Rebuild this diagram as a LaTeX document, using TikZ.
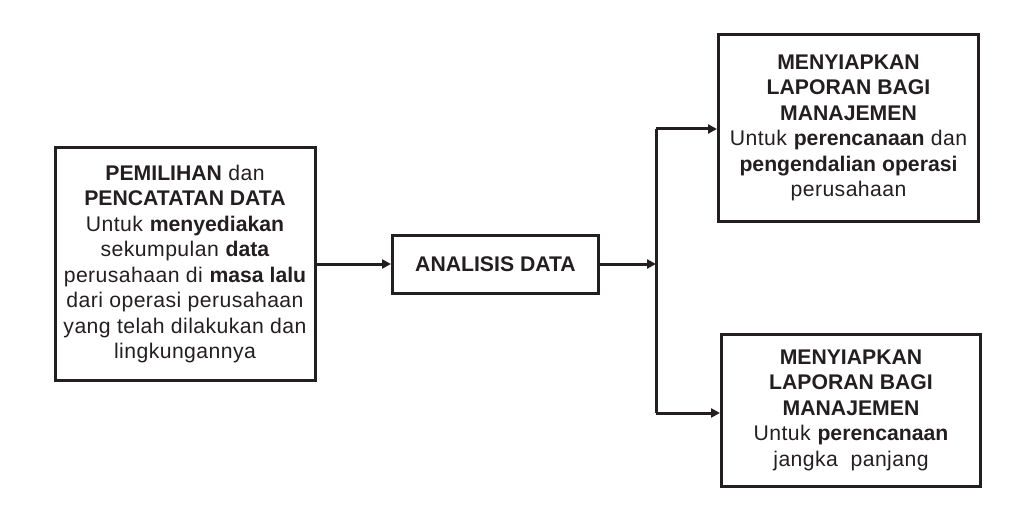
\documentclass[tikz,border=0pt]{standalone}
\usepackage{fontspec}
\setmainfont{Liberation Sans}[LetterSpace=2,BoldFeatures={LetterSpace=0}]
\usetikzlibrary{arrows.meta}
\definecolor{ink}{HTML}{231F20}
\begin{document}
\begin{tikzpicture}[x=1pt,y=-1pt,
  box/.style={draw=ink,line width=3pt,inner sep=0pt,align=center,text=ink,
    font=\fontsize{21.2}{25.5}\selectfont},
  conn/.style={draw=ink,line width=3pt},
  arr/.style={conn,-{Triangle[length=9pt,width=9pt]}}]
\useasboundingbox (0,0) rectangle (1019,505);
\node[box,minimum width=260pt,minimum height=232pt] (L) at (185,264)
  {\textbf{PEMILIHAN} dan\\\textbf{PENCATATAN DATA}\\Untuk \textbf{menyediakan}\\sekumpulan \textbf{data}\\perusahaan di \textbf{masa lalu}\\dari operasi perusahaan\\yang telah dilakukan dan\\lingkungannya};
\node[box,minimum width=206pt,minimum height=58pt] (A) at (495.5,264.5)
  {\textbf{ANALISIS DATA}};
\node[box,minimum width=260pt,minimum height=187pt] (T) at (848.5,128)
  {\textbf{MENYIAPKAN}\\\textbf{LAPORAN BAGI}\\\textbf{MANAJEMEN}\\Untuk \textbf{perencanaan} dan\\\textbf{pengendalian operasi}\\perusahaan};
\node[box,minimum width=259pt,minimum height=152pt] (B) at (851,410)
  {\textbf{MENYIAPKAN}\\\textbf{LAPORAN BAGI}\\\textbf{MANAJEMEN}\\Untuk \textbf{perencanaan}\\jangka\ \ panjang};
\coordinate (J) at (656,264);
\coordinate (J1) at (656,129);
\coordinate (J2) at (656,413);
\draw[arr] (L.east |- 0,264) -- (A.west |- 0,264);
\draw[arr] (A.east |- J) -- (J);
\draw[conn] (J1) -- (J2);
\draw[arr] (J1) -- (J1 -| T.west);
\draw[arr] (J2) -- (J2 -| B.west);
\end{tikzpicture}
\end{document}
